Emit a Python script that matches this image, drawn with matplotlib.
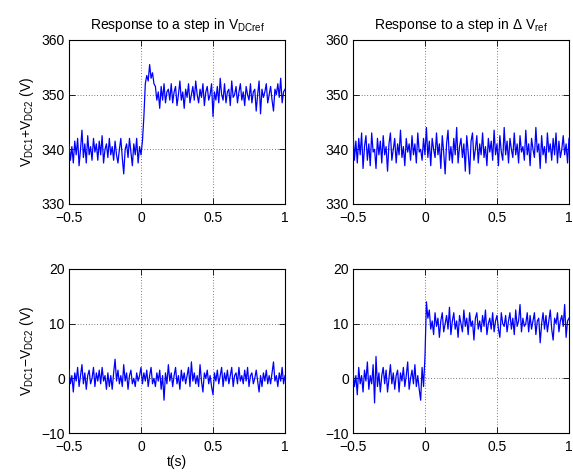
import numpy as np
import matplotlib
matplotlib.use('Agg')
import matplotlib.pyplot as plt

# time axis of the recorded samples (s)
t = np.linspace(-0.5, 1.0, 151)

# V_DC1 + V_DC2 for a step in V_DCref (V)
sum_step_vdc = [
    341, 338, 340.5, 337.5, 341.5, 339, 342, 337, 340, 343.5,
    338.5, 341, 337.5, 342.5, 339, 340.5, 338, 342, 339.5, 341,
    338, 341.5, 339, 342.5, 337.5, 340, 341, 338.5, 342, 339,
    340.5, 338, 341.5, 339, 337.5, 340, 342, 338.5, 335.5, 340,
    341, 338.5, 342, 339.5, 337, 341, 339, 342, 337.5, 340.5,
    339, 341.5, 346, 352, 353.5, 352.5, 355.5, 353, 354, 352,
    351.5, 349, 350.5, 347.5, 351.5, 349, 352, 348.5, 350.5, 351,
    349, 352, 348.5, 350.5, 351.5, 348, 350, 352.5, 349, 350.5,
    347.5, 351, 349.5, 352, 348.5, 350, 351.5, 349, 352.5, 350,
    348.5, 351, 349.5, 352, 348, 350.5, 351.5, 349, 350, 352,
    346, 350.5, 349, 351.5, 348.5, 353, 350, 349, 352, 348.5,
    350.5, 351, 348, 352.5, 349.5, 350, 351.5, 348.5, 350.5, 352,
    349, 350.5, 348, 351.5, 350, 349, 352, 348.5, 350.5, 351,
    347, 350, 352.5, 346.5, 351, 349.5, 350.5, 352, 348.5, 350,
    351.5, 349, 347, 351, 350, 352, 349.5, 353, 348.5, 350.5,
    351,
]

# V_DC1 + V_DC2 for a step in delta V_ref (V)
sum_step_dvref = [
    343.5, 338, 341.5, 337.5, 342, 339, 343, 336.5, 340.5, 342.5,
    338, 341, 337, 343, 339.5, 340, 336.5, 342, 339, 341.5,
    337.5, 342.5, 339, 340.5, 336, 341, 343, 338, 340, 342,
    337.5, 341, 339, 343.5, 338.5, 340.5, 337, 342, 339.5, 341,
    338, 342.5, 339, 341, 337.5, 343, 339.5, 340, 338, 342,
    339, 344, 338.5, 341.5, 337, 342, 340, 338.5, 343, 339,
    341, 336.5, 342.5, 339.5, 335.5, 341, 343.5, 338, 340.5, 337.5,
    342, 339, 344, 337.5, 340.5, 342, 338.5, 341, 336, 342.5,
    339.5, 335.5, 341.5, 343, 338, 340, 342.5, 337.5, 341, 339,
    343, 338.5, 340.5, 337, 342, 339.5, 341.5, 338, 343.5, 339,
    341, 337, 342.5, 339.5, 338, 344, 339, 341.5, 337.5, 342,
    340, 338.5, 343, 339, 341, 337.5, 342.5, 339.5, 340.5, 338,
    343.5, 339, 341, 337, 342, 340, 338.5, 344, 339.5, 341,
    336.5, 342.5, 339, 340.5, 337.5, 343, 339.5, 341, 338, 342,
    339, 343, 337.5, 341.5, 338.5, 340, 342.5, 339, 341, 337.5,
    342,
]

# V_DC1 - V_DC2 for a step in V_DCref (V)
diff_step_vdc = [
    1.5, -1, 0.5, -2.5, 1, -0.5, 2, -1.5, 0.5, 2.5,
    -1, 1, -2, 0.5, 1.5, -1, 0, 2, -1.5, 1,
    -0.5, 1.5, -1, 2, -0.5, 0.5, -2, 1, -1.5, 0.5,
    -2, 1, 3.5, -0.5, 1.5, -1, 0.5, -1.5, 2.5, -0.5,
    1, -2, 0.5, 1.5, -1, 0, -1.5, 1, -0.5, 0.5,
    2, -1, 1, -0.5, 1.5, -1.5, 0.5, 2, -1, 0,
    -1.5, 1, -0.5, 1.5, -2, 0.5, -4, 1, -1, 2.5,
    -0.5, 1, -1.5, 0.5, 2, -1, 0.5, -2, 1.5, -0.5,
    1, -1, 0.5, 2, -1.5, 3, -0.5, 1, -1, 0.5,
    -1.5, 2.5, -0.5, -2.5, 1, 0, 1.5, -1, 0.5, -1.5,
    -3, 1, -0.5, 1.5, -1, 0.5, 2, -1.5, 1, -0.5,
    1.5, -1, 0.5, 2, -1.5, 0.5, 1, -1, 2, -0.5,
    0.5, -1, 1.5, -0.5, 2, -1.5, 0.5, 1, -1, 0,
    1.5, -0.5, -2.5, 0.5, -1.5, 1, -0.5, 1.5, -1, 0.5,
    -1, 1, 3, -0.5, 0.5, -1.5, 1, -0.5, 2, -1,
    0.5,
]

# V_DC1 - V_DC2 for a step in delta V_ref (V)
diff_step_dvref = [
    1.5, -1.5, 0.5, -3, 2, -1, 0.5, -2.5, 1.5, -0.5,
    3, -2, 0.5, -1, 2.5, -4.5, 4, -1.5, 1, -2.5,
    0.5, 2, -1, 1.5, -2.5, 0, 2.5, -1, 1, -2,
    0.5, 1.5, -2.5, 1, -0.5, 2, -1.5, 0.5, 3, -2,
    0, 1.5, -1, 2.5, -1.5, 0.5, -2, -4, 2, -1.5,
    4, 14, 11, 12.5, 9, 10.5, 8, 12, 9.5, 11,
    7.5, 10.5, 12, 8.5, 10, 11.5, 9, 13, 8, 10.5,
    12, 9, 10.5, 7.5, 11.5, 10, 8.5, 12.5, 9.5, 11,
    8, 12, 9.5, 10.5, 7, 11, 12, 9, 10.5, 8.5,
    11.5, 9.5, 12.5, 8, 10, 11, 9, 12, 8.5, 10.5,
    11.5, 9, 7.5, 12, 10, 9.5, 11.5, 8.5, 10.5, 12,
    9, 11, 8, 12.5, 9.5, 10.5, 13.5, 8.5, 11, 9.5,
    10, 12, 8.5, 11.5, 9, 10.5, 12, 8, 10.5, 11,
    6.5, 10, 12, 9, 11.5, 8.5, 10.5, 12.5, 9, 7,
    11, 10, 12, 8.5, 10.5, 11.5, 9.5, 13.5, 7.5, 10.5,
    11,
]

x_ticks = [-0.5, 0, 0.5, 1]
sum_ticks = [330, 340, 350, 360]
diff_ticks = [-10, 0, 10, 20]

plt.rcParams['font.family'] = ['Liberation Sans', 'DejaVu Sans']
plt.rcParams['mathtext.default'] = 'regular'
plt.rcParams['font.size'] = 10

fig = plt.figure(figsize=(5.73, 4.72), dpi=100)
ax1 = fig.add_axes([0.1204, 0.5678, 0.377, 0.3475])
ax2 = fig.add_axes([0.616, 0.5678, 0.377, 0.3475])
ax3 = fig.add_axes([0.1204, 0.0826, 0.377, 0.3475])
ax4 = fig.add_axes([0.616, 0.0826, 0.377, 0.3475])

panels = [
    (ax1, sum_step_vdc, sum_ticks),
    (ax2, sum_step_dvref, sum_ticks),
    (ax3, diff_step_vdc, diff_ticks),
    (ax4, diff_step_dvref, diff_ticks),
]

for ax, y, yt in panels:
    ax.plot(t, y, color='#0000ff', lw=0.9, zorder=3)
    ax.set_xlim(-0.5, 1)
    ax.set_ylim(yt[0], yt[-1])
    ax.set_xticks(x_ticks)
    ax.set_xticklabels(['\u22120.5', '0', '0.5', '1'])
    ax.set_yticks(yt)
    ax.set_yticklabels([str(v).replace('-', '\u2212') for v in yt])
    ax.grid(True, color='black', linestyle=(0, (1, 3)), linewidth=0.5)
    ax.tick_params(direction='in', top=True, right=True, length=4,
                   width=0.6, labelsize=10)
    ax.tick_params(axis='x', pad=5)
    ax.tick_params(axis='y', pad=3)
    for s in ax.spines.values():
        s.set_linewidth(0.8)

ax1.set_title('Response to a step in V$_{DCref}$', fontsize=10, pad=8)
ax2.set_title('Response to a step in $\\Delta$ V$_{ref}$', fontsize=10, pad=8)
ax1.set_ylabel('V$_{DC1}$+V$_{DC2}$ (V)', fontsize=10)
ax3.set_ylabel('V$_{DC1}$\u2212V$_{DC2}$ (V)', fontsize=10)
ax3.set_xlabel('t(s)', fontsize=10, labelpad=1)

fig.savefig('out.png', dpi=100)
